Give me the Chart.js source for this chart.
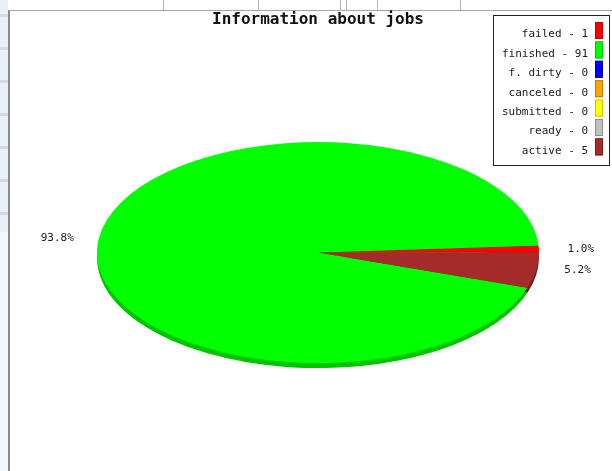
<!DOCTYPE html>
<html>
<head>
<meta charset="utf-8">
<title>Information about jobs</title>
<script src="https://cdn.jsdelivr.net/npm/chart.js@4.4.1/dist/chart.umd.min.js"></script>
<style>
  html, body { margin: 0; padding: 0; width: 612px; height: 471px; overflow: hidden; background: #fff; }
  #side { position: absolute; left: 0; top: 0; width: 8px; height: 232px;
          background: repeating-linear-gradient(#e8f1f9 0 14px, #d3dae1 14px 17px, #e8f1f9 17px 33px); }
  #side2 { position: absolute; left: 0; top: 232px; width: 8px; height: 239px; background: #f4f8fb; }
  #topbar { position: absolute; left: 8px; top: 0; width: 604px; height: 10px; background: #fff;
            background-image:
              linear-gradient(#b8b8b8, #b8b8b8), linear-gradient(#b8b8b8, #b8b8b8),
              linear-gradient(#b8b8b8, #b8b8b8), linear-gradient(#b8b8b8, #b8b8b8),
              linear-gradient(#b8b8b8, #b8b8b8), linear-gradient(#b8b8b8, #b8b8b8);
            background-size: 1px 10px;
            background-repeat: no-repeat;
            background-position: 155px 0, 250px 0, 332px 0, 338px 0, 369px 0, 452px 0; }
  #frame { position: absolute; left: 8px; top: 10px; width: 604px; height: 461px;
           border-left: 2px solid #8a8a8a; border-top: 1px solid #a6a6a6; box-sizing: border-box; }
  #chart { position: absolute; left: 9px; top: 0; }
</style>
</head>
<body>
<div id="side"></div>
<div id="side2"></div>
<div id="topbar"></div>
<div id="frame"></div>
<canvas id="chart" width="603" height="490"></canvas>
<script>
// job states and how many jobs are in each
const categories = ['failed', 'finished', 'f. dirty', 'canceled', 'submitted', 'ready', 'active'];
const jobCounts = [1, 91, 0, 0, 0, 0, 5];
const sliceColors = ['#ff0000', '#00ff00', '#0000ff', '#ffa500', '#ffff00', '#c0c0c0', '#a52a2a'];
const sideColors = ['#c00000', '#00c400', '#0000a8', '#c07c00', '#c8c800', '#8e8e8e', '#761c1c'];

const TILT = 0.5;   // vertical squash of the pie
const DEPTH = 5;    // thickness of the pie wall

const total = jobCounts.reduce((a, b) => a + b, 0);

// squash the circle into an ellipse; the flip makes slices run counter-clockwise
function squash(ctx, cx, cy) {
  ctx.translate(cx, cy);
  ctx.scale(1, -TILT);
  ctx.translate(-cx, -cy);
}

const tiltPlugin = {
  id: 'tilt',
  beforeDatasetsDraw(chart) {
    const ctx = chart.ctx;
    const arcs = chart.getDatasetMeta(0).data;
    const cx = arcs[0].x, cy = arcs[0].y;

    // darker wall under the top face
    ctx.save();
    ctx.translate(0, DEPTH);
    squash(ctx, cx, cy);
    arcs.forEach((arc, i) => {
      if (arc.endAngle - arc.startAngle <= 0) return;
      ctx.beginPath();
      ctx.moveTo(arc.x, arc.y);
      ctx.arc(arc.x, arc.y, arc.outerRadius, arc.startAngle, arc.endAngle);
      ctx.closePath();
      ctx.fillStyle = sideColors[i];
      ctx.fill();
    });
    ctx.restore();

    ctx.save();
    squash(ctx, cx, cy);
  },
  afterDatasetsDraw(chart) {
    const ctx = chart.ctx;
    ctx.restore();

    // percentage next to each slice
    const arcs = chart.getDatasetMeta(0).data;
    ctx.save();
    ctx.font = '11px "DejaVu Sans Mono", monospace';
    ctx.fillStyle = '#1a1a1a';
    ctx.textAlign = 'center';
    ctx.textBaseline = 'middle';
    arcs.forEach((arc, i) => {
      if (!jobCounts[i]) return;
      const mid = (arc.startAngle + arc.endAngle) / 2;
      const lx = arc.x + (arc.outerRadius + 42) * Math.cos(mid);
      const ly = arc.y - arc.outerRadius * TILT * Math.sin(mid);
      ctx.fillText((jobCounts[i] / total * 100).toFixed(1) + '%', lx, ly);
    });
    ctx.restore();
  }
};

// boxed legend in the top right corner, swatch on the right of the text
const legendBox = {
  id: 'legendBox',
  afterDraw(chart) {
    const ctx = chart.ctx;
    const left = 484, top = 15, width = 116, height = 150;
    ctx.save();
    ctx.fillStyle = '#fff';
    ctx.fillRect(left, top, width, height);
    ctx.strokeStyle = '#222';
    ctx.lineWidth = 1;
    ctx.strokeRect(left + 0.5, top + 0.5, width, height);
    ctx.font = '11px "DejaVu Sans Mono", monospace';
    ctx.textAlign = 'right';
    ctx.textBaseline = 'middle';
    categories.forEach((name, i) => {
      const rowTop = 22 + i * 19.4;
      ctx.fillStyle = sliceColors[i];
      ctx.fillRect(586, rowTop, 8, 17);
      ctx.strokeStyle = sideColors[i];
      ctx.strokeRect(586.5, rowTop + 0.5, 7, 16);
      ctx.fillStyle = '#1a1a1a';
      ctx.fillText(name + ' - ' + jobCounts[i], 579, rowTop + 12.5);
    });
    ctx.restore();
  }
};

new Chart(document.getElementById('chart'), {
  type: 'pie',
  data: {
    labels: categories,
    datasets: [{
      data: jobCounts,
      backgroundColor: sliceColors,
      borderWidth: 0,
      radius: 221
    }]
  },
  options: {
    responsive: false,
    animation: false,
    events: [],
    rotation: 90,
    layout: { padding: { left: 88, right: 73, top: 10, bottom: 16 } },
    plugins: {
      legend: { display: false },
      tooltip: { enabled: false },
      title: {
        display: true,
        text: 'Information about jobs',
        color: '#111',
        font: { family: 'DejaVu Sans Mono', size: 16, weight: 'bold' },
        padding: { top: 0, bottom: 2 }
      }
    }
  },
  plugins: [tiltPlugin, legendBox]
});
</script>
</body>
</html>
